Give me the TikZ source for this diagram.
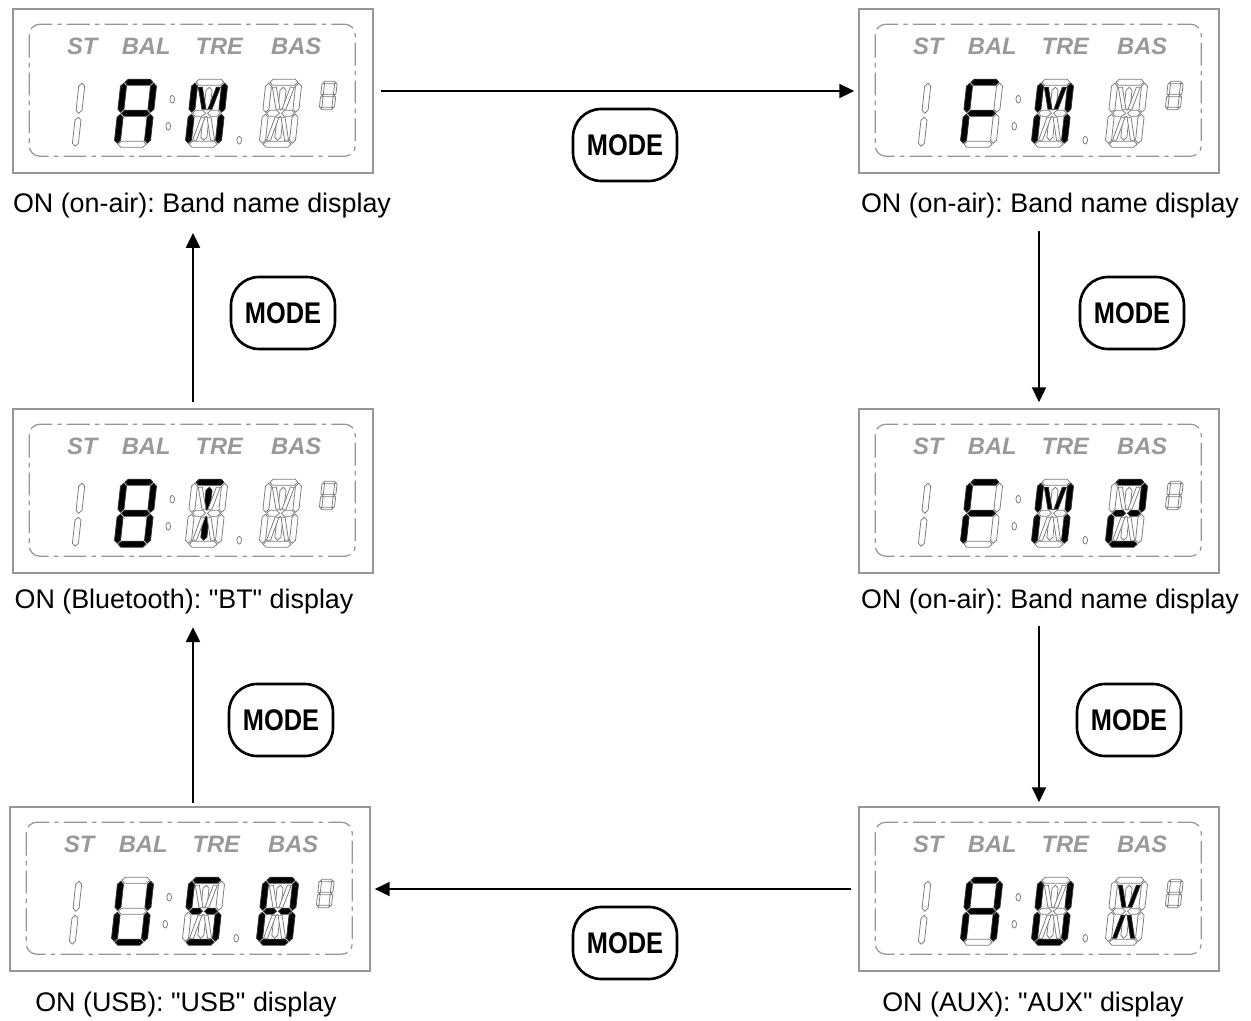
\documentclass[tikz,border=0pt]{standalone}
\usepackage{fontspec}
\setmainfont{Liberation Sans}
\usepackage{graphicx}
\usetikzlibrary{positioning, arrows.meta, calc}
\frenchspacing

\definecolor{lcdgray}{RGB}{150,150,150}
\definecolor{segline}{RGB}{125,125,125}

\tikzset{
  panel/.style={draw=lcdgray, line width=0.9pt, minimum width=7.2cm, minimum height=3.28cm, inner sep=0},
  lcdframe/.style={draw=lcdgray, line width=0.7pt, rounded corners=6pt, dash pattern=on 13pt off 3pt on 2.5pt off 3pt},
  lcdlabel/.style={text=black!40, font=\bfseries\itshape\fontsize{13.5}{13.5}\selectfont, inner sep=0},
  segoff/.style={draw=segline, line width=0.45pt, fill=white},
  segon/.style={draw=black!80, line width=0.45pt, fill=black},
  lit/.style={#1/.style={segon}},
  captext/.style={font=\fontsize{15.3}{18}\selectfont, inner sep=0},
  modebtn/.style={draw, line width=1.5pt, rounded corners=16pt, minimum width=2.08cm, minimum height=1.44cm, inner sep=0, font=\bfseries\fontsize{17}{20}\selectfont},
  flow/.style={-{Triangle[length=8.5pt, width=8pt]}, line width=1.1pt},
}

% segments: horizontal, vertical, diagonal
\newcommand{\hseg}[4]{\draw[#4] (#1,#3) -- ({#1+3},{#3-3}) -- ({#2-3},{#3-3}) -- (#2,#3) -- ({#2-3},{#3+3}) -- ({#1+3},{#3+3}) -- cycle;}
\newcommand{\vseg}[4]{\draw[#4] (#1,#2) -- ({#1+3},{#2+3}) -- ({#1+3},{#3-3}) -- (#1,#3) -- ({#1-3},{#3-3}) -- ({#1-3},{#2+3}) -- cycle;}
\newcommand{\dseg}[5]{\draw[#5] ({#1-2},#2) -- ({#1+2},#2) -- ({#3+2},#4) -- ({#3-2},#4) -- cycle;}

\newcommand{\digitseven}[3][]{%
  \begin{scope}[shift={#2}, xslant=0.11, #1, sa/.style=segoff, sb/.style=segoff, sc/.style=segoff, sd/.style=segoff, se/.style=segoff, sf/.style=segoff, sg/.style=segoff, lit/.list={#3}]
    \hseg{4}{32}{3}{sa}
    \vseg{33}{4}{33}{sb}
    \vseg{33}{35}{64}{sc}
    \hseg{4}{32}{65}{sd}
    \vseg{3}{35}{64}{se}
    \vseg{3}{4}{33}{sf}
    \hseg{4}{32}{34}{sg}
  \end{scope}}

\newcommand{\digitfourteen}[2]{%
  \begin{scope}[shift={#1}, xslant=0.11, sa/.style=segoff, sb/.style=segoff, sc/.style=segoff, sd/.style=segoff, se/.style=segoff, sf/.style=segoff, sg1/.style=segoff, sg2/.style=segoff, sh/.style=segoff, si/.style=segoff, sj/.style=segoff, sk/.style=segoff, sl/.style=segoff, sm/.style=segoff, lit/.list={#2}]
    \hseg{4}{32}{3}{sa}
    \vseg{33}{4}{33}{sb}
    \vseg{33}{35}{64}{sc}
    \hseg{4}{32}{65}{sd}
    \vseg{3}{35}{64}{se}
    \vseg{3}{4}{33}{sf}
    \hseg{4}{17}{34}{sg1}
    \hseg{19}{32}{34}{sg2}
    \vseg{18}{8}{31}{si}
    \vseg{18}{37}{61}{sl}
    \dseg{9}{8}{15}{30}{sh}
    \dseg{27}{8}{21}{30}{sj}
    \dseg{15}{38}{9}{61}{sk}
    \dseg{21}{38}{27}{61}{sm}
  \end{scope}}

\newcommand{\digithalf}[1]{%
  \begin{scope}[shift={#1}, xslant=0.11]
    \vseg{4}{2}{32}{segoff}
    \vseg{4}{36}{65}{segoff}
  \end{scope}}

\newcommand{\lcdface}[4]{%
  \begin{scope}[shift={(#1.north west)}]
    \draw[lcdframe] (17,16) rectangle (343,148);
    \node[lcdlabel] (#1-st) at (70,38) {ST};
    \node[lcdlabel] (#1-bal) at (134,38) {BAL};
    \node[lcdlabel] (#1-tre) at (207,38) {TRE};
    \node[lcdlabel] (#1-bas) at (284,38) {BAS};
    \digithalf{(66,73)}
    \digitseven{(109,71)}{#2}
    \draw[segoff] (160,91) ellipse [x radius=1.3pt, y radius=2.2pt];
    \draw[segoff] (156,118) ellipse [x radius=1.3pt, y radius=2.2pt];
    \digitfourteen{(180,71)}{#3}
    \draw[segoff] (227,132) ellipse [x radius=1.3pt, y radius=2.2pt];
    \digitfourteen{(254,71)}{#4}
    \digitseven[scale=0.42]{(310,73)}{segnone}
  \end{scope}}

\begin{document}
\begin{tikzpicture}[x=0.02cm, y=-0.02cm]
  \useasboundingbox (0,0) rectangle (1251,1021);

  % displays
  \node[panel] (tl) at (193,91) {};
  \node[panel] (tr) at (1039,91) {};
  \node[panel] (ml) at (193,491) {};
  \node[panel] (mr) at (1039,491) {};
  \node[panel] (bl) at (190,889) {};
  \node[panel] (br) at (1039,889) {};

  \lcdface{tl}{sa,sb,sc,se,sf,sg}{sb,sc,se,sf,sh,sj}{segnone}
  \lcdface{tr}{sa,se,sf,sg}{sb,sc,se,sf,sh,sj}{segnone}
  \lcdface{mr}{sa,se,sf,sg}{sb,sc,se,sf,sh,sj}{sa,sb,sg1,sg2,se,sd}
  \lcdface{ml}{sa,sb,sc,sd,se,sf,sg}{sa,si,sl}{segnone}
  \lcdface{bl}{sb,sc,sd,se,sf}{sa,sf,sg1,sg2,sc,sd}{sa,sb,sc,sd,se,sf,sg1,sg2}
  \lcdface{br}{sa,sb,sc,se,sf,sg}{sb,sc,sd,se,sf}{sh,sj,sk,sm}

  % captions
  \node[captext] (tlcap) at (202,206) {ON (on-air): Band name display};
  \node[captext] (trcap) at (1050,206) {ON (on-air): Band name display};
  \node[captext] (mlcap) at (184,602) {ON (Bluetooth): \textquotedbl BT\textquotedbl{} display};
  \node[captext] (mrcap) at (1050,602) {ON (on-air): Band name display};
  \node[captext] (blcap) at (186,1005) {ON (USB): \textquotedbl USB\textquotedbl{} display};
  \node[captext] (brcap) at (1033,1005) {ON (AUX): \textquotedbl AUX\textquotedbl{} display};

  % mode keys
  \node[modebtn] (mode1) at (625,145) {\scalebox{0.85}[1]{MODE}};
  \node[modebtn] (mode2) at (283,313) {\scalebox{0.85}[1]{MODE}};
  \node[modebtn] (mode3) at (1132,313) {\scalebox{0.85}[1]{MODE}};
  \node[modebtn] (mode4) at (281,720) {\scalebox{0.85}[1]{MODE}};
  \node[modebtn] (mode5) at (1129,720) {\scalebox{0.85}[1]{MODE}};
  \node[modebtn] (mode6) at (625,943) {\scalebox{0.85}[1]{MODE}};

  % arrows
  \draw[flow, shorten <=4pt, shorten >=2.3pt] (tl) -- (tr);
  \draw[flow, shorten <=7pt, shorten >=3.4pt] (trcap.south -| tr.south) -- (mr.north);
  \draw[flow, shorten <=6.5pt, shorten >=2.3pt] (mrcap.south -| mr.south) -- (br.north);
  \draw[flow, shorten <=4pt, shorten >=2.3pt] (br) -- (bl);
  \draw[flow, shorten <=1.7pt, shorten >=7pt] (ml.south |- bl.north) -- (ml.south |- mlcap.south);
  \draw[flow, shorten <=3.4pt, shorten >=8pt] (ml.north) -- (tl.south |- tlcap.south);
\end{tikzpicture}
\end{document}
